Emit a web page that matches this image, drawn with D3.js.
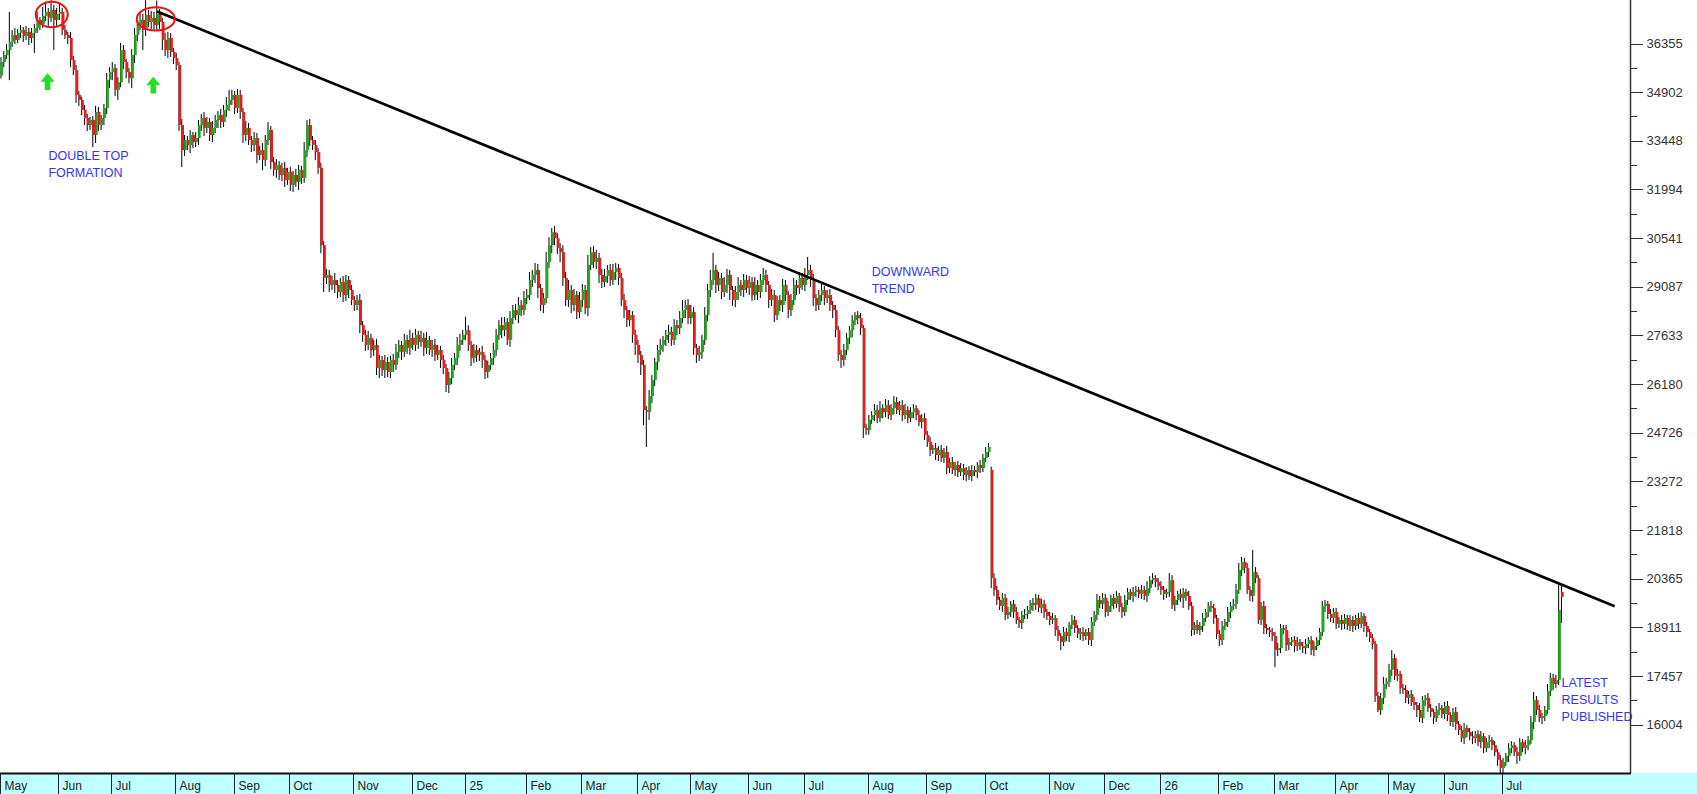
<!DOCTYPE html>
<html>
<head>
<meta charset="utf-8">
<script src="https://cdn.jsdelivr.net/npm/d3@7"></script>
<style>
  body { margin: 0; background: #fff; }
  svg { display: block; }
  text { font-family: Arial, "Liberation Sans", sans-serif; }
</style>
</head>
<body>
<svg id="chart"></svg>
<script>
// trading calendar (JSE) - first session and the public holidays it skips
const startDate = '2024-05-02';
const holidays = ['2024-05-29', '2024-06-17', '2024-08-09', '2024-09-24', '2024-12-16', '2024-12-25', '2024-12-26',
  '2025-01-01', '2025-03-21', '2025-04-18', '2025-04-21', '2025-04-28', '2025-05-01', '2025-06-16', '2025-09-24',
  '2025-12-16', '2025-12-25', '2025-12-26', '2026-01-01', '2026-04-03', '2026-04-06', '2026-04-27', '2026-05-01', '2026-06-16'];

// daily closes (cents), one row per month
const closes = [
  35800, 36010, 36160, 36400, 36610, 36460, 36670, 36760, 36580, 36700, 36520, 36670, 36820, 37060, 36940, 37180, 37300, 37120, 37360, 37060, 37240,
  37300, 36760, 36610, 36520, 35860, 35560, 34820, 34670, 34370, 34130, 33920, 34070, 33620, 34310, 33920, 34130, 34430, 35270, 35500,
  35620, 34970, 35200, 36160, 35800, 35500, 35320, 36010, 36610, 36910, 37060, 36760, 37210, 37000, 37120, 36910, 37240, 37000, 36460, 36160, 36520, 36100, 35920,
  35710, 33920, 33170, 33470, 33320, 33620, 33410, 33530, 33920, 34130, 33830, 34010, 33620, 33830, 34070, 34220, 34010, 34370, 34520, 34670, 34820,
  34430, 34820, 34310, 33620, 33830, 33470, 33320, 33530, 33020, 33170, 32870, 33470, 33770, 32810, 32580, 32720, 32430, 32640, 32280, 32520,
  32130, 32430, 32220, 32580, 32340, 33170, 33920, 33470, 33320, 33110, 32640, 30330, 29350, 29440, 29140, 29290, 29140, 28930, 29230, 28840, 29290, 28990, 28690,
  28540, 28690, 27940, 27650, 27350, 27560, 27200, 27350, 26660, 26900, 26600, 26840, 26540, 26900, 26750, 27140, 27350, 27140, 27500, 27260, 27560,
  27350, 27650, 27440, 27560, 27260, 27500, 27200, 27350, 27050, 27200, 26900, 26660, 26150, 26360, 26750, 26960, 27350, 27500, 27650,
  27790, 27350, 26960, 27200, 27050, 27140, 26900, 26540, 26750, 26960, 27200, 27650, 27940, 27790, 28030, 27500, 28150, 28390, 28240, 28540, 28390, 28750,
  28840, 29290, 29440, 29590, 29050, 28540, 28750, 29830, 30330, 30720, 30540, 30240, 30120, 29350, 28690, 28990, 28540, 28840, 28330, 28690,
  28990, 28450, 29740, 30120, 29830, 29950, 29440, 29230, 29410, 29590, 29290, 29530, 29650, 29350, 28690, 28390, 28090, 28240, 27650, 27350,
  27050, 26750, 25400, 25350, 25820, 26300, 26840, 27200, 27350, 27500, 27650, 27740, 27500, 27940, 27850, 28150, 28390, 28540, 28150,
  28330, 27260, 27050, 27140, 27500, 28240, 28990, 29290, 29590, 29140, 29350, 28930, 29140, 29440, 28990, 28690, 28930, 29140, 28990, 29290, 29050,
  29230, 28840, 29140, 28930, 29290, 29440, 29140, 28690, 28840, 28240, 28690, 28540, 29140, 28840, 28390, 28690, 29140, 29050, 29350, 29140,
  29440, 29590, 29290, 28750, 28540, 28840, 28990, 28750, 28840, 28540, 28390, 27790, 27050, 26900, 27200, 27560, 27790, 28090, 28240, 28150, 27850, 24870, 24810,
  25110, 25250, 25400, 25160, 25460, 25340, 25550, 25250, 25460, 25640, 25400, 25550, 25250, 25400, 25160, 25340, 25460, 25250, 25040, 25160, 24660,
  24450, 24210, 24270, 24060, 24210, 23970, 24150, 23670, 23850, 23610, 23760, 23550, 23670, 23460, 23610, 23430, 23610, 23550, 23760, 23670, 23970,
  24150, 24300, 20380, 20030, 19730, 19550, 19790, 19280, 19370, 19610, 19370, 19130, 19040, 19280, 19310, 19430, 19640, 19580, 19790, 19490, 19610, 19370, 19250,
  19130, 19190, 18830, 18650, 18470, 18770, 18650, 18980, 19130, 18890, 18710, 18770, 18650, 18770, 18530, 19070, 19280, 19730, 19610, 19790,
  19370, 19550, 19790, 19610, 19850, 19520, 19370, 19730, 19970, 19850, 19970, 20030, 19910, 20030, 19850, 20080, 20320, 20380, 20260, 20140,
  20030, 19910, 19970, 20320, 19580, 19730, 19910, 19790, 19970, 19850, 19550, 18830, 18980, 18830, 18950, 19190, 19370, 19550, 19490, 19190, 18710,
  18530, 18950, 19070, 19370, 19550, 19610, 20030, 20620, 20860, 20680, 20030, 19850, 20560, 20380, 19130, 19550, 18890, 18830, 18770, 18650,
  18230, 18290, 18890, 18830, 18380, 18470, 18530, 18350, 18470, 18350, 18290, 18410, 18530, 18230, 18350, 18530, 18770, 19550, 19610, 19310, 19190, 19370,
  19010, 19130, 19010, 19190, 18950, 19130, 18950, 19190, 19010, 19250, 18950, 18770, 18590, 18410, 16860, 16440, 16800, 17220, 17280,
  17640, 17990, 17460, 17520, 17100, 17040, 16800, 16920, 16680, 16590, 16440, 16200, 16740, 16800, 16500, 16380, 16200, 16440, 16500, 16320,
  16560, 16290, 16080, 16380, 16020, 15840, 15600, 15900, 15780, 15660, 15600, 15720, 15480, 15660, 15300, 15480, 15540, 15390, 15180, 14950, 14710,
  14890, 15070, 15300, 15390, 15180, 15070, 15480, 15300, 15390, 15540, 16080, 16740, 16440, 16200, 16260, 16440, 17010, 17400, 17220, 17340, 19430, 19820
];

// opening prices where the session did not open at the prior close
const gapOpens = { 0: 35400, 356: 23620, 561: 19970 };

// wick length above the body / below the body (cents)
const upperWicks = [
  150, 120, 180, 900, 150, 210, 120, 150, 90, 180, 120, 150, 120, 240, 90, 270, 300, 120, 290, 150, 180,
  240, 120, 150, 90, 180, 120, 150, 120, 90, 150, 120, 90, 120, 180, 150, 90, 120, 210, 150,
  180, 120, 150, 210, 150, 90, 120, 180, 210, 150, 240, 180, 440, 150, 210, 180, 400, 150, 120, 210, 180, 150, 120,
  150, 90, 180, 150, 120, 150, 90, 180, 150, 120, 180, 150, 120, 210, 150, 120, 180, 150, 240, 300, 150,
  120, 180, 150, 120, 210, 150, 120, 180, 150, 120, 210, 150, 240, 120, 150, 180, 120, 150, 180, 120,
  150, 120, 180, 150, 120, 240, 150, 180, 120, 150, 120, 150, 120, 180, 150, 120, 210, 150, 120, 180, 150, 120, 150,
  120, 150, 180, 120, 150, 210, 120, 150, 180, 150, 120, 210, 150, 120, 180, 240, 150, 120, 180, 150, 240,
  150, 180, 120, 210, 150, 240, 120, 150, 180, 150, 120, 150, 120, 180, 210, 150, 240, 180, 150,
  400, 150, 120, 180, 150, 120, 180, 150, 120, 150, 210, 180, 150, 240, 150, 120, 210, 150, 180, 240, 150, 210,
  180, 240, 150, 210, 180, 120, 150, 300, 240, 120, 180, 150, 150, 210, 180, 300, 150, 180, 120, 240,
  180, 150, 300, 150, 180, 240, 150, 180, 210, 150, 180, 240, 150, 120, 150, 180, 120, 150, 120, 150,
  150, 120, 150, 120, 180, 150, 120, 150, 180, 120, 150, 210, 150, 180, 150, 210, 300, 150, 180,
  210, 150, 120, 180, 150, 240, 180, 300, 510, 150, 180, 150, 240, 180, 150, 120, 180, 240, 150, 180, 150,
  180, 150, 240, 150, 180, 210, 150, 120, 180, 150, 120, 150, 180, 150, 120, 180, 210, 150, 180, 150,
  210, 390, 150, 180, 120, 150, 180, 120, 150, 180, 120, 150, 120, 150, 180, 150, 120, 150, 90, 120, 150, 90, 120,
  150, 120, 180, 150, 210, 120, 180, 150, 120, 180, 150, 120, 150, 180, 120, 150, 120, 90, 150, 120, 150,
  120, 150, 90, 150, 120, 150, 120, 180, 120, 150, 90, 120, 150, 120, 90, 120, 150, 120, 90, 150, 120,
  150, 120, 90, 150, 120, 90, 150, 120, 150, 90, 120, 150, 90, 120, 150, 120, 90, 150, 120, 90, 150, 120, 90,
  120, 150, 90, 120, 90, 150, 120, 90, 150, 120, 90, 120, 150, 90, 120, 150, 120, 180, 120, 150,
  120, 150, 90, 120, 150, 90, 120, 150, 120, 90, 150, 120, 90, 150, 120, 210, 120, 150, 90, 120,
  150, 120, 90, 210, 150, 120, 90, 150, 120, 90, 150, 120, 90, 150, 120, 150, 90, 120, 150, 120, 90,
  120, 150, 90, 150, 120, 150, 180, 210, 150, 120, 150, 120, 660, 150, 90, 120, 150, 120, 90, 120,
  120, 150, 120, 90, 150, 120, 90, 120, 150, 90, 120, 150, 90, 120, 150, 90, 120, 150, 120, 90, 150, 120,
  120, 90, 150, 120, 90, 150, 120, 90, 150, 120, 90, 120, 90, 120, 90, 120, 150, 210, 120,
  180, 240, 120, 150, 90, 120, 150, 90, 120, 150, 90, 210, 120, 90, 150, 120, 90, 120, 150, 90,
  120, 150, 90, 120, 150, 90, 120, 150, 90, 120, 150, 90, 120, 150, 90, 120, 150, 90, 120, 90, 150,
  120, 90, 150, 120, 90, 150, 120, 90, 150, 120, 180, 240, 120, 150, 90, 120, 210, 150, 120, 150, 770, 210
];
const lowerWicks = [
  90, 150, 120, 900, 150, 120, 90, 150, 180, 120, 210, 150, 600, 150, 180, 120, 150, 240, 120, 900, 180,
  180, 150, 120, 180, 210, 150, 240, 180, 150, 210, 180, 150, 360, 240, 180, 150, 210, 180, 240,
  240, 180, 300, 150, 210, 180, 150, 300, 240, 180, 150, 600, 180, 150, 210, 180, 150, 210, 300, 180, 240, 150, 180,
  150, 180, 510, 180, 150, 240, 180, 150, 210, 180, 240, 150, 180, 210, 150, 240, 180, 150, 210, 180, 150,
  180, 150, 210, 240, 180, 150, 210, 180, 240, 150, 300, 180, 150, 210, 180, 240, 150, 180, 210, 150,
  180, 210, 150, 240, 180, 150, 210, 180, 150, 240, 180, 240, 420, 180, 210, 150, 240, 180, 150, 210, 180, 240, 150,
  180, 150, 240, 210, 180, 150, 240, 180, 210, 300, 180, 240, 150, 180, 210, 150, 180, 240, 150, 180, 210,
  150, 180, 210, 150, 240, 180, 150, 210, 180, 150, 240, 180, 210, 240, 180, 150, 210, 180, 150,
  150, 180, 240, 150, 210, 180, 240, 210, 180, 150, 210, 180, 150, 240, 180, 150, 210, 180, 150, 240, 180, 150,
  180, 150, 210, 240, 300, 180, 240, 150, 180, 240, 210, 180, 300, 240, 180, 210, 240, 180, 210, 180,
  210, 180, 240, 150, 180, 210, 240, 180, 150, 210, 180, 150, 240, 210, 180, 240, 210, 180, 240, 300,
  240, 300, 450, 1050, 240, 210, 180, 240, 150, 210, 180, 240, 180, 150, 210, 180, 150, 240, 180,
  180, 210, 240, 180, 210, 150, 180, 210, 150, 240, 180, 210, 150, 240, 300, 180, 210, 240, 180, 210, 150,
  210, 180, 150, 240, 180, 150, 210, 240, 180, 210, 150, 180, 210, 180, 240, 180, 150, 210, 180, 150,
  180, 150, 210, 240, 180, 150, 180, 210, 150, 180, 240, 210, 180, 240, 180, 150, 180, 210, 150, 180, 210, 300, 150,
  150, 120, 180, 150, 120, 180, 150, 120, 150, 180, 120, 150, 180, 120, 150, 120, 180, 150, 120, 180, 150,
  150, 180, 120, 150, 180, 120, 150, 180, 150, 120, 180, 150, 120, 150, 180, 120, 150, 120, 180, 150, 120,
  120, 150, 300, 180, 150, 120, 180, 150, 120, 150, 180, 120, 150, 180, 120, 150, 120, 180, 150, 120, 150, 180, 120,
  150, 120, 180, 150, 240, 120, 150, 180, 120, 150, 120, 180, 150, 120, 150, 180, 120, 150, 120, 150,
  150, 120, 180, 150, 120, 150, 180, 120, 150, 120, 180, 150, 120, 150, 120, 180, 150, 120, 150, 120,
  150, 180, 120, 150, 120, 180, 150, 120, 300, 150, 120, 180, 150, 120, 150, 180, 120, 150, 120, 180, 150,
  180, 150, 120, 150, 180, 120, 150, 120, 180, 150, 120, 150, 180, 150, 120, 150, 180, 120, 150, 150,
  510, 180, 150, 120, 180, 150, 120, 180, 150, 120, 150, 180, 120, 150, 180, 120, 150, 120, 180, 150, 120, 150,
  150, 120, 180, 150, 120, 150, 180, 120, 150, 120, 180, 150, 120, 150, 180, 60, 150, 180, 150,
  150, 180, 120, 150, 180, 120, 150, 180, 120, 150, 210, 120, 150, 180, 120, 150, 180, 120, 150, 120,
  150, 180, 120, 150, 180, 150, 120, 180, 150, 120, 180, 150, 120, 180, 150, 120, 180, 150, 120, 180, 150,
  150, 120, 180, 150, 120, 240, 150, 120, 180, 150, 120, 210, 150, 120, 180, 150, 120, 150, 180, 120, 150, 780
];

// price axis
const priceMin = 14558, priceMax = 37655;
const yTicks = [16004, 17457, 18911, 20365, 21818, 23272, 24726, 26180, 27633, 29087, 30541, 31994, 33448, 34902, 36355];

// annotations, placed by trading-day index and price
const trendLine = [{ i: 56, price: 37310 }, { i: 580, price: 19540 }];
const topCircles = [{ i: 18.1, price: 37220, rx: 16, ry: 12.7 }, { i: 55.5, price: 37090, rx: 19, ry: 11.7 }];
const topArrows = [{ i: 16.6, price: 35465 }, { i: 54.6, price: 35363 }];
const notes = [
  { i: 16.9, price: 32874, lines: ['DOUBLE TOP', 'FORMATION'] },
  { i: 312.9, price: 29408, lines: ['DOWNWARD', 'TREND'] },
  { i: 560.9, price: 17136, lines: ['LATEST', 'RESULTS', 'PUBLISHED'] }
];

const W = 1697, H = 794;
const plotW = 1630, plotH = 773;
const slots = closes.length + 24; // empty room to the right of the last session

const svg = d3.select('#chart').attr('width', W).attr('height', H);

// build the trading dates
const fmtDay = d3.timeFormat('%Y-%m-%d');
const hol = new Set(holidays);
const dates = [];
let day = d3.timeParse('%Y-%m-%d')(startDate);
while (dates.length < closes.length) {
  const dow = day.getDay();
  if (dow !== 0 && dow !== 6 && !hol.has(fmtDay(day))) dates.push(day);
  day = d3.timeDay.offset(day, 1);
}

const candles = closes.map((c, i) => {
  const o = gapOpens[i] !== undefined ? gapOpens[i] : (i ? closes[i - 1] : c);
  return {
    i, date: dates[i], open: o, close: c,
    high: Math.max(o, c) + upperWicks[i],
    low: Math.min(o, c) - lowerWicks[i]
  };
});

const x = d3.scaleBand().domain(d3.range(slots)).range([0, plotW]);
const step = x.step();
const xc = i => (i + 0.5) * step; // centre of a (possibly fractional) slot
const y = d3.scaleLinear().domain([priceMin, priceMax]).range([plotH, 0]);

svg.append('rect').attr('width', W).attr('height', H).attr('fill', '#fff');

svg.append('clipPath').attr('id', 'plotclip')
  .append('rect').attr('width', plotW).attr('height', plotH);

const plot = svg.append('g').attr('clip-path', 'url(#plotclip)');

// wicks
plot.append('g').selectAll('line')
  .data(candles)
  .join('line')
  .attr('x1', d => xc(d.i) - 0.4).attr('x2', d => xc(d.i) - 0.4)
  .attr('y1', d => y(d.high)).attr('y2', d => y(d.low))
  .attr('stroke', '#000')
  .attr('stroke-width', 1);

// bodies
const bodyW = 2.6;
plot.append('g').selectAll('rect')
  .data(candles)
  .join('rect')
  .attr('x', d => xc(d.i) - 0.8)
  .attr('width', bodyW)
  .attr('y', d => y(Math.max(d.open, d.close)))
  .attr('height', d => Math.max(1.4, Math.abs(y(d.open) - y(d.close))))
  .attr('fill', d => d.close >= d.open ? '#1fa81f' : '#e81c1c');

// trend line
plot.append('path')
  .datum(trendLine)
  .attr('d', d3.line().x(d => xc(d.i)).y(d => y(d.price)))
  .attr('fill', 'none')
  .attr('stroke', '#000')
  .attr('stroke-width', 2.6);

// red circles round the two tops
plot.selectAll('ellipse')
  .data(topCircles)
  .join('ellipse')
  .attr('cx', d => xc(d.i)).attr('cy', d => y(d.price))
  .attr('rx', d => d.rx).attr('ry', d => d.ry)
  .attr('fill', 'none')
  .attr('stroke', '#ee1111')
  .attr('stroke-width', 2);

// green arrows under the tops
const arrowPath = 'M0,0 L7,8.4 L2.8,8.4 L2.8,16.7 L-2.8,16.7 L-2.8,8.4 L-7,8.4 Z';
plot.selectAll('path.arrow')
  .data(topArrows)
  .join('path')
  .attr('class', 'arrow')
  .attr('d', arrowPath)
  .attr('transform', d => `translate(${xc(d.i)},${y(d.price)})`)
  .attr('fill', '#22e022');

// blue notes
notes.forEach(n => {
  const t = svg.append('text')
    .attr('x', xc(n.i))
    .attr('y', y(n.price))
    .attr('font-size', '12.5px')
    .attr('fill', '#3333ff');
  n.lines.forEach((line, k) => {
    t.append('tspan').attr('x', xc(n.i)).attr('dy', k ? 17.3 : 0).text(line);
  });
});

// right price axis
const axis = svg.append('g');
axis.append('line')
  .attr('x1', plotW + 0.5).attr('x2', plotW + 0.5)
  .attr('y1', 0).attr('y2', plotH)
  .attr('stroke', '#333').attr('stroke-width', 1.5);

const minorTicks = d3.pairs(yTicks).map(([a, b]) => (a + b) / 2);
axis.selectAll('line.minor')
  .data(minorTicks)
  .join('line')
  .attr('class', 'minor')
  .attr('x1', plotW).attr('x2', plotW + 7)
  .attr('y1', d => Math.round(y(d)) + 0.5).attr('y2', d => Math.round(y(d)) + 0.5)
  .attr('stroke', '#333');

axis.selectAll('line.major')
  .data(yTicks)
  .join('line')
  .attr('class', 'major')
  .attr('x1', plotW).attr('x2', plotW + 13)
  .attr('y1', d => Math.round(y(d)) + 0.5).attr('y2', d => Math.round(y(d)) + 0.5)
  .attr('stroke', '#333');

axis.selectAll('text')
  .data(yTicks)
  .join('text')
  .attr('x', plotW + 16.5)
  .attr('y', d => y(d))
  .attr('dy', '0.35em')
  .attr('font-size', '13px')
  .attr('fill', '#333')
  .text(d => d);

// bottom month band
svg.append('rect')
  .attr('x', 0).attr('y', plotH)
  .attr('width', W).attr('height', H - plotH)
  .attr('fill', '#c0ffff');
svg.append('line')
  .attr('x1', 0).attr('x2', plotW + 1)
  .attr('y1', plotH + 0.5).attr('y2', plotH + 0.5)
  .attr('stroke', '#111').attr('stroke-width', 2);

const monthStarts = candles.filter((d, i) => i === 0 || d.date.getMonth() !== candles[i - 1].date.getMonth());
const fmtMonth = d3.timeFormat('%b'), fmtYear = d3.timeFormat('%y');

const months = svg.append('g').selectAll('g')
  .data(monthStarts)
  .join('g')
  .attr('transform', d => `translate(${Math.round(x(d.i)) + 0.5},0)`);
months.append('line')
  .attr('y1', plotH + 1).attr('y2', H)
  .attr('stroke', '#222');
months.append('text')
  .attr('x', 4)
  .attr('y', 790)
  .attr('font-size', '12px')
  .attr('fill', '#222')
  .text(d => d.date.getMonth() === 0 ? fmtYear(d.date) : fmtMonth(d.date));
</script>
</body>
</html>
